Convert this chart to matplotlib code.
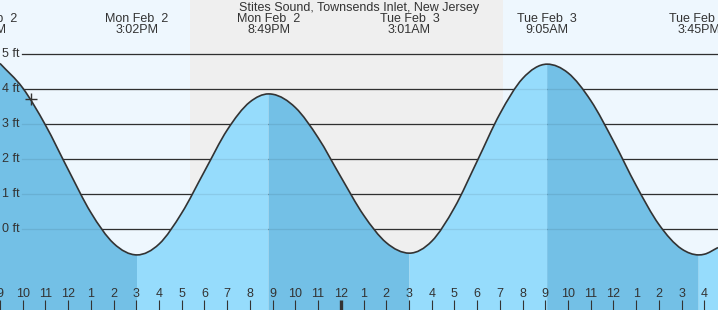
import numpy as np
import matplotlib
matplotlib.use("Agg")
import matplotlib.pyplot as plt
from matplotlib.path import Path
from matplotlib.patches import PathPatch
from matplotlib.transforms import blended_transform_factory

# ---------------- data (hours relative to Tue Feb 3, 00:00) ----------------
hours = [-15.0, -14, -13, -12, -11, -10, -8.97, -8, -7, -6, -5, -4, -3.18,
         -3, -2, -1, 0, 1, 2, 3.02, 4, 5, 6, 7, 8, 9.08, 10, 11, 12, 13,
         14, 15, 15.75, 16, 16.6]
heights = [4.73, 4.03, 2.97, 1.70, 0.47, -0.41, -0.74, -0.43, 0.46, 1.65,
           2.83, 3.63, 3.86, 3.85, 3.47, 2.61, 1.49, 0.40, -0.39, -0.69,
           -0.35, 0.61, 1.94, 3.29, 4.30, 4.71, 4.46, 3.67, 2.51, 1.24,
           0.13, -0.57, -0.74, -0.72, -0.53]
# hours of high / low water shown in the curve
extreme_hours = [-8.97, -3.18, 3.02, 9.08, 15.75]

event_hours = [-15.65, -8.97, -3.18, 3.02, 9.08, 15.75]
event_days = ["Mon Feb  2", "Mon Feb  2", "Mon Feb  2", "Tue Feb  3",
              "Tue Feb  3", "Tue Feb  3"]
event_times = ["8:21AM", "3:02PM", "8:49PM", "3:01AM", "9:05AM", "3:45PM"]

sunset_hour = -6.63
sunrise_hour = 7.12

now_hour = -13.63
now_height = 3.72

ft_levels = [0, 1, 2, 3, 4, 5]
ft_labels = ["0 ft", "1 ft", "2 ft", "3 ft", "4 ft", "5 ft"]

tick_hours = list(range(-15, 17))
tick_labels = ["9", "10", "11", "12", "1", "2", "3", "4", "5", "6", "7", "8",
               "9", "10", "11", "12", "1", "2", "3", "4", "5", "6", "7", "8",
               "9", "10", "11", "12", "1", "2", "3", "4"]
midnight_hour = 0

title = "Stites Sound, Townsends Inlet, New Jersey"

# ---------------- style ----------------
day_color = "#eef7fe"
night_color = "#efefef"
fall_color = "#73c0e6"
rise_color = "#96dcfc"
ink = "#333333"
FONT = "Liberation Sans"
FS = 9

YMIN, YMAX = -2.314, 6.543
XMIN, XMAX = -15.0, 16.6

fig = plt.figure(figsize=(7.18, 3.10), dpi=100)
ax = fig.add_axes([0, 0, 1, 1])
ax.set_xlim(XMIN, XMAX)
ax.set_ylim(YMIN, YMAX)
ax.set_facecolor(day_color)
for s in ax.spines.values():
    s.set_visible(False)

ax.axvspan(sunset_hour, sunrise_hour, color=night_color, zorder=0, lw=0)

t = np.array(hours, dtype=float)
y = np.array(heights, dtype=float)
m = np.gradient(y, t)
ext_idx = [int(np.argmin(np.abs(t - e))) for e in extreme_hours]
m[ext_idx] = 0.0


def curve_vertices(a, b):
    verts = [(t[a], y[a])]
    codes = [Path.MOVETO]
    for i in range(a, b):
        dt = t[i + 1] - t[i]
        verts += [(t[i] + dt / 3, y[i] + m[i] * dt / 3),
                  (t[i + 1] - dt / 3, y[i + 1] - m[i + 1] * dt / 3),
                  (t[i + 1], y[i + 1])]
        codes += [Path.CURVE4] * 3
    return verts, codes


# grid lines (behind water)
x0 = 22 / 718
for v in ft_levels:
    ax.axhline(v, xmin=x0, color=ink, lw=0.9, zorder=1)

# water fills, split at each high/low
bounds = [0] + ext_idx + [len(t) - 1]
for k in range(len(bounds) - 1):
    a, b = bounds[k], bounds[k + 1]
    verts, codes = curve_vertices(a, b)
    verts += [(t[b], YMIN - 1), (t[a], YMIN - 1), (t[a], y[a])]
    codes += [Path.LINETO, Path.LINETO, Path.CLOSEPOLY]
    falling = y[b] < y[a]
    ax.add_patch(PathPatch(Path(verts, codes),
                           facecolor=fall_color if falling else rise_color,
                           edgecolor="none", zorder=2))

# faint grid lines under water
for v in ft_levels:
    ax.axhline(v, xmin=x0, color="#000000", alpha=0.08, lw=0.9, zorder=3)

verts, codes = curve_vertices(0, len(t) - 1)
ax.add_patch(PathPatch(Path(verts, codes), fill=False, edgecolor=ink,
                       lw=1.2, zorder=4))

ax.plot([now_hour], [now_height], marker="+", ms=9, mew=1.0, color=ink,
        zorder=5)

# y labels
ytr = blended_transform_factory(ax.transAxes, ax.transData)
for v, lab in zip(ft_levels, ft_labels):
    ax.text(0.003, v, lab, transform=ytr, ha="left", va="center",
            fontsize=FS, family=FONT, color=ink, zorder=6)

# top labels
xtr = blended_transform_factory(ax.transData, ax.transAxes)
ax.text(0.5, 1 - 8.5 / 310, title, transform=ax.transAxes, ha="center",
        va="center", fontsize=FS, family=FONT, color=ink)
for h, d, tm in zip(event_hours, event_days, event_times):
    ax.text(h, 1 - 19 / 310, d, transform=xtr, ha="center", va="center",
            fontsize=FS, family=FONT, color=ink)
    ax.text(h, 1 - 30 / 310, tm, transform=xtr, ha="center", va="center",
            fontsize=FS, family=FONT, color=ink)

# x ticks
ax.set_yticks([])
ax.set_xticks(tick_hours)
ax.set_xticklabels(tick_labels, fontsize=FS, family=FONT, color=ink)
ax.tick_params(axis="x", direction="in", length=7.2, width=0.8, color=ink,
               pad=-15.5)
for tk, h in zip(ax.xaxis.get_major_ticks(), tick_hours):
    if h == midnight_hour:
        tk.tick1line.set_markeredgewidth(2.4)
ax.xaxis.set_zorder(10)

fig.savefig("out.png", dpi=100)
